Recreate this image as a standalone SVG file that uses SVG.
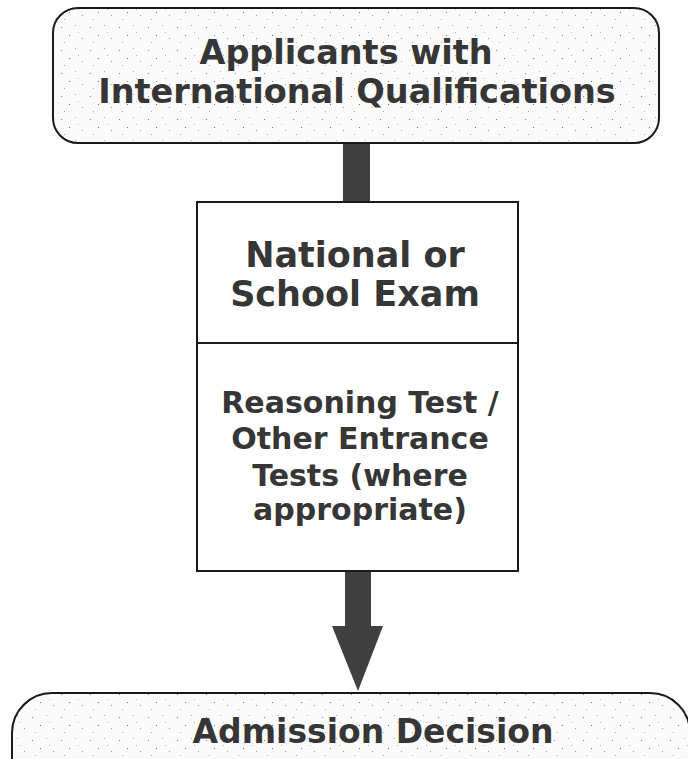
<svg xmlns="http://www.w3.org/2000/svg" width="688" height="759" viewBox="0 0 688 759">
<style>
.box{stroke:#1a1a1a;stroke-width:2}
.speck{fill:url(#speck)}
.t2{font-family:'DejaVu Sans','Liberation Sans',sans-serif;font-weight:bold;fill:#363636;text-anchor:middle}
.bar{fill:#404040}
</style>
<defs>
<pattern id="speck" width="29" height="23" patternUnits="userSpaceOnUse">
<rect width="29" height="23" fill="#fbfbfb"/>
<rect x="3" y="4" width="1" height="1" fill="#888"/>
<rect x="17" y="2" width="1" height="1" fill="#aaa"/>
<rect x="11" y="12" width="1" height="1" fill="#777"/>
<rect x="24" y="15" width="1" height="1" fill="#999"/>
<rect x="6" y="19" width="1" height="1" fill="#aaa"/>
<rect x="20" y="9" width="1" height="1" fill="#bbb"/>
</pattern>
</defs>
<rect width="688" height="759" fill="#ffffff"/>
<g id="connectors">
<rect class="bar" x="343" y="143" width="27" height="59"/>
<path class="bar" d="M345 571 H371 V626 H383 L358 691 L332 626 H345 Z"/>
</g>
<g id="applicants">
<rect class="box speck" x="53" y="8" width="606" height="135" rx="25" ry="25"/>
<text class="t2" font-size="33.5" x="346" y="64">Applicants with</text>
<text class="t2" font-size="33.5" x="357" y="103">International Qualifications</text>
</g>
<g id="exam">
<rect class="box" x="197" y="202" width="321" height="369" fill="#ffffff"/>
<line class="box" x1="197" y1="343" x2="518" y2="343"/>
<text class="t2" font-size="35" x="355" y="267">National or</text>
<text class="t2" font-size="35" x="355" y="306">School Exam</text>
<text class="t2" font-size="30" x="360" y="413">Reasoning Test /</text>
<text class="t2" font-size="30" x="360" y="449">Other Entrance</text>
<text class="t2" font-size="30" x="360" y="486">Tests (where</text>
<text class="t2" font-size="30" x="360" y="520">appropriate)</text>
</g>
<g id="decision">
<rect class="box speck" x="12" y="693" width="678" height="110" rx="40" ry="40"/>
<text class="t2" font-size="33" x="373" y="743">Admission Decision</text>
</g>
</svg>
